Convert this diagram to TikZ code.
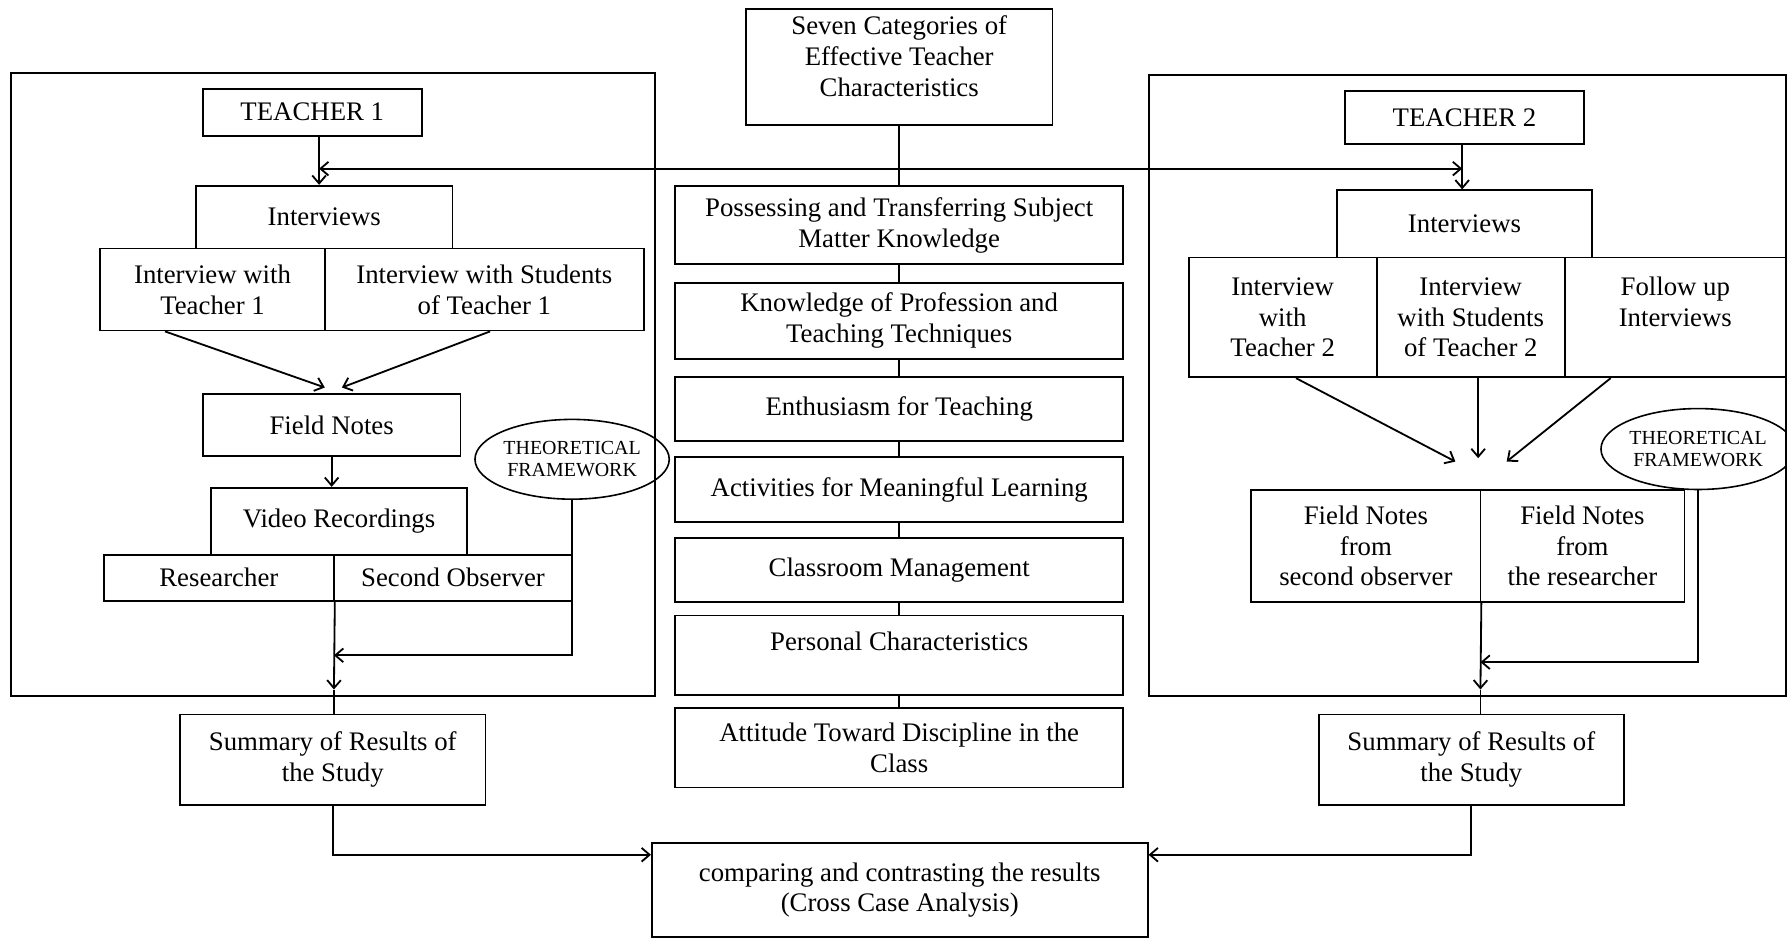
\documentclass[tikz,border=0pt]{standalone}
\usepackage{fontspec}
\setmainfont{Liberation Serif}
\usetikzlibrary{arrows.meta,shapes.geometric,calc}
\begin{document}
\begin{tikzpicture}[x=1pt,y=-1pt,
  box/.style={draw, line width=1.6pt, rectangle, inner sep=0pt, align=center, font=\fontsize{23.5}{27}\selectfont},
  ell/.style={draw, line width=1.4pt, ellipse, inner sep=0pt, align=center, font=\fontsize{17.5}{19.5}\selectfont},
  outerframe/.style={draw, line width=1.6pt, rectangle, inner sep=0pt},
  ln/.style={line width=1.6pt},
  tip/.tip={Straight Barb[length=7pt,width=12pt]},
  arr/.style={line width=1.6pt, -tip},
]
\useasboundingbox (0,0) rectangle (1568,824);

% frames
\node[outerframe, minimum width=565, minimum height=547] (fr1) at (292.5,337.5) {};
\node[outerframe, minimum width=559, minimum height=545] (fr2) at (1287.5,338.5) {};

% left column
\node[box, minimum width=192, minimum height=41] (t1) at (274,98.5) {TEACHER 1};
\node[box, minimum width=225, minimum height=55] (int1) at (284.5,190.5) {Interviews};
\node[box, minimum width=197, minimum height=72] (iw1) at (186.5,254) {Interview with\\Teacher 1};
\node[box, minimum width=280, minimum height=72] (is1) at (425,254) {Interview with Students\\of Teacher 1};
\node[box, minimum width=226, minimum height=54] (fn1) at (291,373) {Field Notes};
\node[box, minimum width=225, minimum height=59] (vr1) at (297.5,457.5) {Video Recordings};
\node[box, minimum width=202, minimum height=40] (re1) at (192,507) {Researcher};
\node[box, minimum width=209, minimum height=40] (so1) at (397.5,507) {Second Observer};
\node[ell, minimum width=138, minimum height=70] (tf1) at (502,403) {THEORETICAL\\FRAMEWORK};
\node[box, minimum width=268, minimum height=79] (sum1) at (292,666.5) {Summary of Results of\\the Study};

% centre column
\node[box, minimum width=269, minimum height=102] (seven) at (789,59) {Seven Categories of\\Effective Teacher\\Characteristics\\[-7pt]\mbox{}};
\node[box, minimum width=393, minimum height=69] (pos) at (789,197.5) {Possessing and Transferring Subject\\Matter Knowledge};
\node[box, minimum width=393, minimum height=67] (kno) at (789,281.5) {Knowledge of Profession and\\Teaching Techniques};
\node[box, minimum width=393, minimum height=56] (ent) at (789,359) {Enthusiasm for Teaching};
\node[box, minimum width=393, minimum height=57] (act) at (789,429.5) {Activities for Meaningful Learning};
\node[box, minimum width=393, minimum height=56] (cla) at (789,500) {Classroom Management};
\node[box, minimum width=393, minimum height=70] (per) at (789,575) {Personal Characteristics\\[-3pt]\mbox{}};
\node[box, minimum width=393, minimum height=70] (att) at (789,656) {Attitude Toward Discipline in the\\Class};
\node[box, minimum width=435, minimum height=82] (cmp) at (789.5,781) {comparing and contrasting the results\\(Cross Case Analysis)};

% right column
\node[box, minimum width=210, minimum height=46] (t2) at (1285,103) {TEACHER 2};
\node[box, minimum width=224, minimum height=59] (int2) at (1285,196.5) {Interviews};
\node[box, minimum width=165, minimum height=105] (iw2) at (1125.5,278.5) {Interview\\with\\Teacher 2};
\node[box, minimum width=165, minimum height=105] (is2) at (1290.5,278.5) {Interview\\with Students\\of Teacher 2};
\node[box, minimum width=194, minimum height=105] (fu2) at (1470,278.5) {Follow up\\Interviews\\\mbox{}};
\node[ell, minimum width=154, minimum height=71] (tf2) at (1490,394) {THEORETICAL\\FRAMEWORK};
\node[box, minimum width=201, minimum height=98] (fnso) at (1198.5,479) {Field Notes\\from\\second observer};
\node[box, minimum width=179, minimum height=98] (fnre) at (1388.5,479) {Field Notes\\from\\the researcher};
\node[box, minimum width=268, minimum height=79] (sum2) at (1291,666.5) {Summary of Results of\\the Study};

% coordinates
\coordinate (j1) at (280,148);
\coordinate (j2) at (1283,148);
\coordinate (fa) at (285,340);
\coordinate (fb) at (300,340);
\coordinate (d1) at (293,605);
\coordinate (m1) at (293,575);
\coordinate (ra) at (1277,405);
\coordinate (rb) at (1297,402);
\coordinate (rc) at (1322,405);
\coordinate (d2) at (1299,605);
\coordinate (m2) at (1299,581);
\coordinate (y750) at (0,750);

% connectors top
\draw[arr] (j1 |- t1.south) -- (j1 |- int1.north);
\draw[arr] (j2 |- t2.south) -- (j2 |- int2.north);
\draw[ln, tip-tip] (j1) -- (j2);

% centre chain
\draw[ln] (seven.south) -- (pos.north);
\draw[ln] (pos.south) -- (kno.north);
\draw[ln] (kno.south) -- (ent.north);
\draw[ln] (ent.south) -- (act.north);
\draw[ln] (act.south) -- (cla.north);
\draw[ln] (cla.south) -- (per.north);
\draw[ln] (per.south) -- (att.north);

% left flow
\draw[arr] ($(iw1.south west)!0.29!(iw1.south east)$) -- (fa);
\draw[arr] ($(is1.south)+(5,0)$) -- (fb);
\draw[arr] (fn1.south) -- (fn1.south |- vr1.north);
\draw[arr] (re1.south east) -- (d1);
\draw[ln] (d1) -- (d1 |- sum1.north);
\draw[arr] (tf1.south) |- (m1);

% right flow
\draw[arr] ($(iw2.south west)!0.57!(iw2.south east)$) -- (ra);
\draw[arr] ($(is2.south)+(6.5,0)$) -- (rb);
\draw[arr] ($(fu2.south west)!0.21!(fu2.south east)$) -- (rc);
\draw[arr] (fnso.south east) -- (d2);
\draw[ln] (d2) -- (d2 |- sum2.north);
\draw[arr] (tf2.south) |- (m2);

% bottom
\draw[arr] (sum1.south) |- (cmp.west |- y750);
\draw[arr] (sum2.south) |- (cmp.east |- y750);
\end{tikzpicture}
\end{document}
